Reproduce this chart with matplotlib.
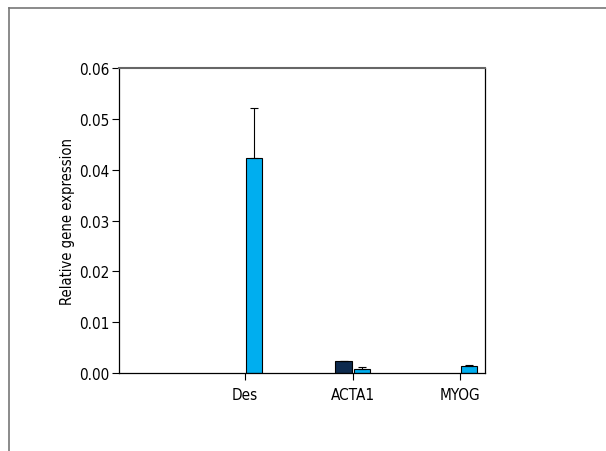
import matplotlib
matplotlib.use("Agg")
import matplotlib.pyplot as plt
from matplotlib import font_manager
from matplotlib.lines import Line2D
import numpy as np

genes = ["Des", "ACTA1", "MYOG"]
dark_vals = [np.nan, 0.0023, np.nan]
dark_err = [np.nan, 0.0001, np.nan]
light_vals = [0.0423, 0.0008, 0.0013]
light_err = [0.0099, 0.0003, 0.0002]
yticks = [0.00, 0.01, 0.02, 0.03, 0.04, 0.05, 0.06]

names = {f.name for f in font_manager.fontManager.ttflist}
family = "DejaVu Sans"
for cand in ["Liberation Sans Narrow", "DejaVu Sans Condensed"]:
    if cand in names:
        family = cand
        break
plt.rcParams["font.family"] = [family, "DejaVu Sans"]
if family == "DejaVu Sans":
    plt.rcParams["font.stretch"] = "condensed"

fig = plt.figure(figsize=(6.06, 4.52), dpi=100)
ax = fig.add_axes([0.1964, 0.1726, 0.6035, 0.6747])

x = np.arange(len(genes))
w = 0.15
off = 0.085
ekw = dict(elinewidth=0.8, capsize=3, capthick=0.8, ecolor="black")
ax.bar(x - off, dark_vals, w, color="#0d2a4e", edgecolor="black", linewidth=0.8,
       yerr=[np.zeros(3), dark_err], error_kw=ekw)
ax.bar(x + off, light_vals, w, color="#00aeef", edgecolor="black", linewidth=0.8,
       yerr=[np.zeros(3), light_err], error_kw=ekw)

ax.set_xlim(-1.172, 2.228)
ax.set_ylim(0, 0.06)
ax.set_yticks(yticks)
ax.set_yticklabels([f"{v:.2f}" for v in yticks])
ax.set_xticks(x)
ax.set_xticklabels(genes)
ax.tick_params(direction="out", length=5, width=0.8, labelsize=11, pad=2)
ax.tick_params(axis="x", pad=5)
ax.set_ylabel("Relative gene expression", fontsize=10.5)
ax.yaxis.set_label_coords(-0.12, 0.5)

for side in ["left", "bottom", "right"]:
    ax.spines[side].set_linewidth(0.9)
    ax.spines[side].set_color("black")
ax.spines["top"].set_color("#666666")
ax.spines["top"].set_linewidth(1.5)

# outer frame of the panel
fig.add_artist(Line2D([9 / 606, 1], [1 - 9 / 452, 1 - 9 / 452], transform=fig.transFigure,
                      color="#777777", linewidth=1.2))
fig.add_artist(Line2D([9 / 606, 9 / 606], [0, 1 - 9 / 452], transform=fig.transFigure,
                      color="#777777", linewidth=1.2))

fig.savefig("out.png", dpi=100)
